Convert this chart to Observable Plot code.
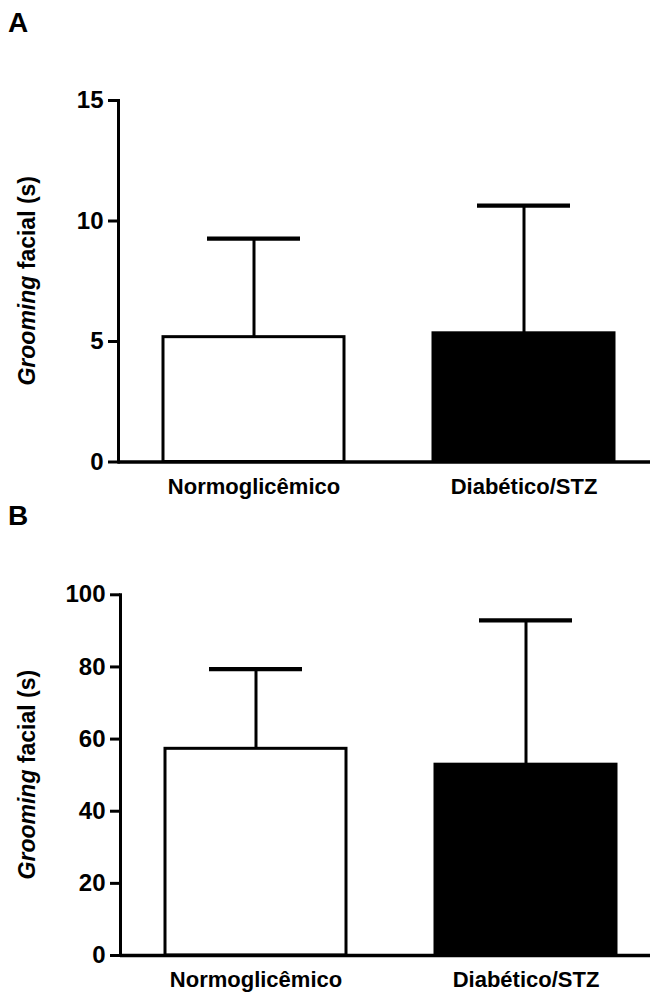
<!DOCTYPE html>
<html><head><meta charset="utf-8">
<script src="https://cdn.jsdelivr.net/npm/d3@7"></script>
<script src="https://cdn.jsdelivr.net/npm/@observablehq/plot@0.6"></script>
<style>
body{margin:0;background:#fff;}
#wrap{width:650px;}
#wrap svg{display:block;}
</style></head><body><div id="wrap"></div>
<script>
const groups = ["Normoglicêmico", "Diabético/STZ"];
const fills = ["white", "black"];
const meanA = [5.18, 5.34];
const upperA = [9.27, 10.64];
const ticksA = [0, 5, 10, 15];
const meanB = [57.3, 52.9];
const upperB = [79.4, 92.9];
const ticksB = [0, 20, 40, 60, 80, 100];
const yLabelItalic = "Grooming";
const yLabelRest = " facial (s)";
const letters = ["A", "B"];

const FONT = "'Liberation Sans', Arial, Helvetica, sans-serif";

function panel({letter, means, uppers, ticks, height, marginTop, marginBottom, marginLeft, letterY}) {
  const data = groups.map((g, i) => ({group: g, mean: means[i], upper: uppers[i], fill: fills[i]}));
  const chart = Plot.plot({
    width: 650, height, marginTop, marginBottom, marginLeft, marginRight: 0,
    style: {fontFamily: FONT, background: "white", color: "black", overflow: "visible"},
    color: {type: "identity"},
    x: {type: "band", domain: groups, range: [marginLeft, marginLeft + 541], paddingInner: 0.331, paddingOuter: 0.167, label: null},
    y: {domain: [0, ticks[ticks.length - 1]], label: null},
    marks: [
      Plot.barY(data, {x: "group", y: "mean", fill: "fill", stroke: "black", strokeWidth: 3}),
      Plot.ruleX(data, {x: "group", y1: "mean", y2: "upper", stroke: "black", strokeWidth: 3}),
      Plot.tickY(data, {x: "group", y: "upper", stroke: "black", strokeWidth: 4.2, insetLeft: 44, insetRight: 44}),
      Plot.ruleY([0], {stroke: "black", strokeWidth: 3.3}),
      Plot.frame({anchor: "left", stroke: "black", strokeWidth: 3}),
      Plot.axisY({ticks, tickSize: 10, tickPadding: 5, fontSize: 24, fontWeight: "bold", strokeWidth: 3, label: null, tickFormat: d => String(d)}),
      Plot.axisX({tickSize: 0, tickPadding: 16, fontSize: 22, fontWeight: "bold", label: null})
    ]
  });
  const svg = d3.select(chart);
  const yr = chart.scale("y").range;
  const cy = (yr[0] + yr[1]) / 2;
  const t = svg.append("text")
    .attr("transform", `translate(35,${cy}) rotate(-90)`)
    .attr("text-anchor", "middle")
    .attr("font-size", 23).attr("font-weight", "bold").attr("fill", "black");
  t.append("tspan").attr("font-style", "italic").text(yLabelItalic);
  t.append("tspan").text(yLabelRest);
  svg.append("text").attr("x", 18).attr("y", letterY)
    .attr("font-size", 28).attr("font-weight", "bold").attr("fill", "black").text(letter);
  return chart;
}

const wrap = document.getElementById("wrap");
wrap.appendChild(panel({letter: letters[0], means: meanA, uppers: upperA, ticks: ticksA, height: 503, marginTop: 100, marginBottom: 41.5, marginLeft: 118, letterY: 32}));
wrap.appendChild(panel({letter: letters[1], means: meanB, uppers: upperB, ticks: ticksB, height: 491, marginTop: 91.3, marginBottom: 39, marginLeft: 120, letterY: 22}));
</script></body></html>
